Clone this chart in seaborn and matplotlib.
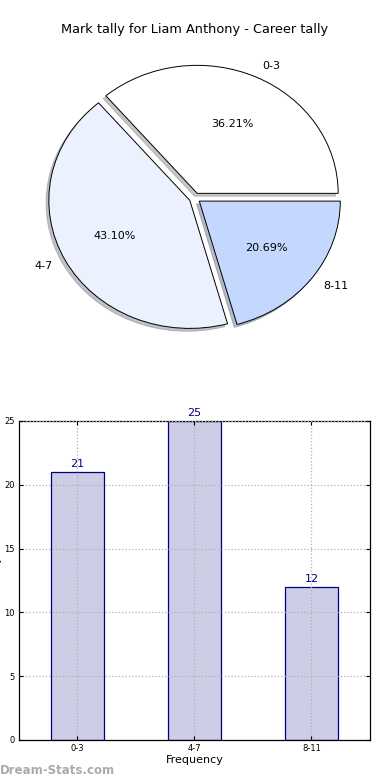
import numpy as np
import pandas as pd
import matplotlib
matplotlib.use('Agg')
import matplotlib.pyplot as plt
import seaborn as sns

# dados
categorias = ['0-3', '4-7', '8-11']
contagens = [21, 25, 12]
cores_pizza = ['#ffffff', '#ebf1ff', '#c4d8ff']
titulo = 'Mark tally for Liam Anthony - Career tally'

sns.set_style('white')
plt.rcParams['font.family'] = ['DejaVu Sans']
plt.rcParams['text.color'] = 'black'
plt.rcParams['axes.labelcolor'] = 'black'
plt.rcParams['xtick.color'] = 'black'
plt.rcParams['ytick.color'] = 'black'

fig = plt.figure(figsize=(3.9, 7.8), dpi=100)

# Gráfico de pizza
ax1 = fig.add_axes([0.0295, 0.5328, 0.940, 0.4267])
ax1.pie(contagens, labels=categorias, colors=cores_pizza, explode=[0.04] * 3,
        autopct='%1.2f%%', startangle=0,
        shadow={'ox': -0.014, 'oy': -0.016, 'shade': 0.45},
        wedgeprops={'edgecolor': 'black', 'linewidth': 0.7},
        textprops={'fontsize': 8, 'color': 'black'})
ax1.set_aspect('auto')
ax1.set_xlim(-1.3, 1.3)
ax1.set_ylim(-1.3, 1.3)
ax1.axis('off')
fig.text(0.5, 1 - 30 / 780, titulo, ha='center', va='center', fontsize=9.3, color='black')

# Gráfico de barras
ax2 = fig.add_axes([0.0487, 0.0513, 0.9, 0.409])
df = pd.DataFrame({'cat': categorias, 'n': contagens})
sns.barplot(data=df, x='cat', y='n', ax=ax2, width=0.45,
            color='#cdcde6', edgecolor='#000080', linewidth=0.9, saturation=1)
ax2.set_xlim(-0.5, 2.5)
ax2.set_ylim(0, 25)
ax2.set_yticks([0, 5, 10, 15, 20, 25])
ax2.set_axisbelow(False)
ax2.grid(True, linestyle=':', color='#b0b0b0', linewidth=0.9)
for i, v in enumerate(contagens):
    ax2.text(i, v + 0.25, str(v), ha='center', va='bottom', color='#000080', fontsize=8)
ax2.set_xlabel('Frequency', fontsize=8, labelpad=1)
ax2.set_ylabel('Mark tally', fontsize=7, labelpad=2)
ax2.tick_params(axis='both', labelsize=6, direction='in', length=3,
                top=True, right=True, bottom=True, left=True, pad=3)
for s in ax2.spines.values():
    s.set_color('black')
    s.set_linewidth(0.9)

fig.text(0.0, 0.012, 'Dream-Stats.com', fontsize=8.5, color='#aaaaaa',
         fontweight='bold', ha='left', va='center')

fig.savefig('out.png', dpi=100)
